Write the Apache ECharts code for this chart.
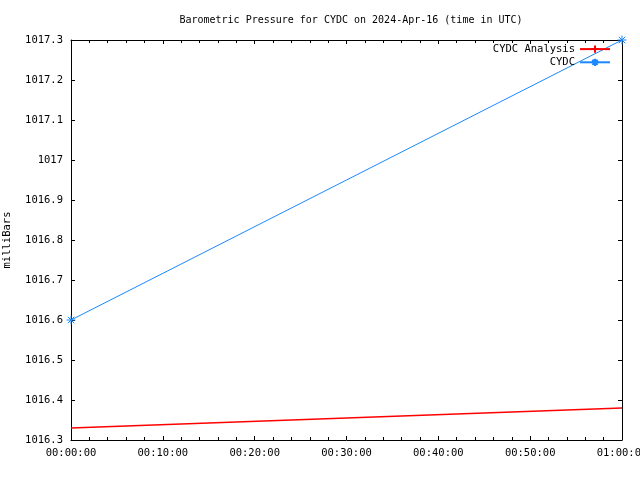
<!DOCTYPE html>
<html><head><meta charset="utf-8">
<script src="https://cdn.jsdelivr.net/npm/echarts@6/dist/echarts.min.js"></script>
<style>html,body{margin:0;padding:0;background:#fff}#c{width:640px;height:480px}</style>
</head><body><div id="c"></div>
<script>
const titleText = 'Barometric Pressure for CYDC on 2024-Apr-16 (time in UTC)';
const yAxisName = 'milliBars';
const seriesNames = ['CYDC Analysis', 'CYDC'];
const timesMin = [0, 60];
const analysisValues = [1016.33, 1016.38];
const cydcValues = [1016.6, 1017.3];
const yMin = 1016.3, yMax = 1017.3, yStep = 0.1;
const xMin = 0, xMax = 60, xStep = 10;

const FONT = 'DejaVu Sans Mono';
const star = 'path://M0,-1L0,1M-1,0L1,0M-0.72,-0.72L0.72,0.72M-0.72,0.72L0.72,-0.72';
const plus = 'path://M0,-1L0,1M-1,0L1,0';
function fmtTime(v){const h=Math.floor(v/60),m=Math.round(v%60);return String(h).padStart(2,'0')+':'+String(m).padStart(2,'0')+':00';}
const axisLine={show:true,onZero:false,lineStyle:{color:'#000',width:1}};
const BLUE='#1a88ff';
const chart = echarts.init(document.getElementById('c'), null, {renderer:'canvas'});
chart.setOption({
  animation:false,
  backgroundColor:'#fff',
  title:{text:titleText,left:346,textAlign:'center',top:10,textStyle:{fontFamily:FONT,fontSize:10,fontWeight:'normal',color:'#000'}},
  legend:{orient:'vertical',right:29,top:43,align:'right',itemWidth:30,itemHeight:9,itemGap:1,padding:0,
    textStyle:{fontFamily:FONT,fontSize:10.5,color:'#000',lineHeight:12},
    data:[{name:seriesNames[0]},{name:seriesNames[1]}]},
  grid:{left:71,right:18,top:40,bottom:40,show:false,containLabel:false,outerBoundsMode:'none'},
  xAxis:[{type:'value',min:xMin,max:xMax,interval:xStep,axisLine:axisLine,
    axisTick:{show:true,inside:true,length:4,lineStyle:{color:'#000'}},
    minorTick:{show:true,splitNumber:5,length:3,lineStyle:{color:'#000'}},
    splitLine:{show:false},
    axisLabel:{formatter:fmtTime,fontFamily:FONT,fontSize:10.5,color:'#000',margin:8,showMaxLabel:true,hideOverlap:false}},
    {type:'value',position:'top',min:xMin,max:xMax,interval:xStep,axisLine:axisLine,
    axisTick:{show:true,inside:true,length:4,lineStyle:{color:'#000'}},
    minorTick:{show:true,splitNumber:5,length:3,lineStyle:{color:'#000'}},
    splitLine:{show:false},axisLabel:{show:false}}],
  yAxis:[{type:'value',min:yMin,max:yMax,interval:yStep,axisLine:axisLine,
    name:yAxisName,nameLocation:'middle',nameGap:58,nameRotate:90,
    nameTextStyle:{fontFamily:FONT,fontSize:10.5,color:'#000'},
    axisTick:{show:true,inside:true,length:4,lineStyle:{color:'#000'}},
    splitLine:{show:false},
    axisLabel:{formatter:v=>String(parseFloat(v.toFixed(1))),fontFamily:FONT,fontSize:10.5,color:'#000',margin:8}},
    {type:'value',position:'right',min:yMin,max:yMax,interval:yStep,axisLine:axisLine,
    axisTick:{show:true,inside:true,length:4,lineStyle:{color:'#000'}},
    splitLine:{show:false},axisLabel:{show:false}}],
  series:[
    {name:seriesNames[0],type:'line',data:timesMin.map((t,i)=>[t,analysisValues[i]]),
     symbol:plus,symbolSize:9,showSymbol:false,color:'#ff0000',
     lineStyle:{color:'#ff0000',width:1.3},itemStyle:{color:'none',borderColor:'#ff0000',borderWidth:1}},
    {name:seriesNames[1],type:'line',data:timesMin.map((t,i)=>[t,cydcValues[i]]),
     symbol:star,symbolSize:9,showSymbol:true,color:BLUE,clip:false,
     lineStyle:{color:BLUE,width:1},itemStyle:{color:'none',borderColor:BLUE,borderWidth:1}}
  ]
});
</script></body></html>
